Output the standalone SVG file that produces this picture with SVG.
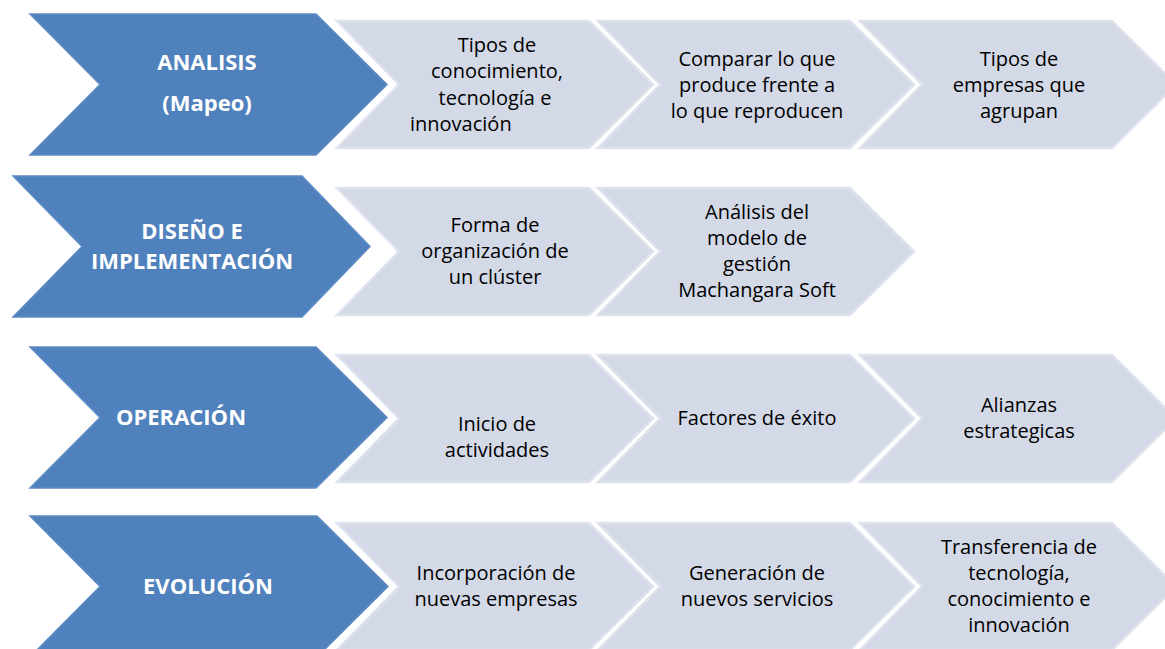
<svg xmlns="http://www.w3.org/2000/svg" width="1165" height="649" viewBox="0 0 1165 649">
<style>
.bl{fill:#4F81BD;stroke:#5F8CC3;stroke-width:1.5}
.lg{fill:#D3D9E6;stroke:#DEE2EC;stroke-width:2.5}
.bt{font-family:"Open Sans","Liberation Sans",sans-serif;font-weight:bold;font-size:22px;fill:#FFFFFF;text-anchor:middle}
.lt{font-family:"Open Sans","Liberation Sans",sans-serif;font-size:20px;fill:#000000;text-anchor:middle}
</style>
<rect width="1165" height="649" fill="#FFFFFF"/>
<g id="connectors"></g>

<g id="analisis">
<polygon class="bl" points="30,14 316,14 387,84.5 316,155 30,155 100,84.5"/>
<text class="bt" x="207" y="70">ANALISIS</text>
<text class="bt" x="207" y="111">(Mapeo)</text>
</g>
<g id="a1">
<polygon class="lg" points="337,21 589,21 653,84.5 589,148 337,148 399,84.5"/>
<text class="lt" x="497" y="52">Tipos de</text>
<text class="lt" x="497" y="78">conocimiento,</text>
<text class="lt" x="495" y="105">tecnología e</text>
<text class="lt" x="410" y="131" style="text-anchor:start">innovación</text>
</g>
<g id="a2">
<polygon class="lg" points="598,21 850,21 914,84.5 850,148 598,148 660,84.5"/>
<text class="lt" x="757" y="66">Comparar lo que</text>
<text class="lt" x="757" y="92">produce frente a</text>
<text class="lt" x="757" y="118">lo que reproducen</text>
</g>
<g id="a3">
<polygon class="lg" points="860,21 1112,21 1176,84.5 1112,148 860,148 922,84.5"/>
<text class="lt" x="1019" y="66">Tipos de</text>
<text class="lt" x="1019" y="92">empresas que</text>
<text class="lt" x="1019" y="118">agrupan</text>
</g>

<g id="diseno">
<polygon class="bl" points="13,176 302,176 370,246.5 302,317 13,317 82,246.5"/>
<text class="bt" x="192" y="239">DISEÑO E</text>
<text class="bt" x="192" y="269">IMPLEMENTACIÓN</text>
</g>
<g id="d1">
<polygon class="lg" points="337,188 589,188 653,251.5 589,315 337,315 399,251.5"/>
<text class="lt" x="495" y="232">Forma de</text>
<text class="lt" x="495" y="258">organización de</text>
<text class="lt" x="495" y="284">un clúster</text>
</g>
<g id="d2">
<polygon class="lg" points="598,188 850,188 914,251.5 850,315 598,315 660,251.5"/>
<text class="lt" x="757" y="219">Análisis del</text>
<text class="lt" x="757" y="245">modelo de</text>
<text class="lt" x="757" y="271">gestión</text>
<text class="lt" x="757" y="297">Machangara Soft</text>
</g>

<g id="operacion">
<polygon class="bl" points="30,347 316,347 387,417.5 316,488 30,488 100,417.5"/>
<text class="bt" x="181" y="425">OPERACIÓN</text>
</g>
<g id="o1">
<polygon class="lg" points="337,355 589,355 653,418.5 589,482 337,482 399,418.5"/>
<text class="lt" x="497" y="431">Inicio de</text>
<text class="lt" x="497" y="457">actividades</text>
</g>
<g id="o2">
<polygon class="lg" points="598,355 850,355 914,418.5 850,482 598,482 660,418.5"/>
<text class="lt" x="757" y="425">Factores de éxito</text>
</g>
<g id="o3">
<polygon class="lg" points="860,355 1112,355 1176,418.5 1112,482 860,482 922,418.5"/>
<text class="lt" x="1019" y="412">Alianzas</text>
<text class="lt" x="1019" y="438">estrategicas</text>
</g>

<g id="evolucion">
<polygon class="bl" points="30,516 317,516 388,586.5 317,657 30,657 100,586.5"/>
<text class="bt" x="208" y="594">EVOLUCIÓN</text>
</g>
<g id="e1">
<polygon class="lg" points="337,523 589,523 653,586.5 589,650 337,650 399,586.5"/>
<text class="lt" x="496" y="580">Incorporación de</text>
<text class="lt" x="496" y="606">nuevas empresas</text>
</g>
<g id="e2">
<polygon class="lg" points="598,523 850,523 914,586.5 850,650 598,650 660,586.5"/>
<text class="lt" x="757" y="580">Generación de</text>
<text class="lt" x="757" y="606">nuevos servicios</text>
</g>
<g id="e3">
<polygon class="lg" points="860,523 1112,523 1176,586.5 1112,650 860,650 922,586.5"/>
<text class="lt" x="1019" y="554">Transferencia de</text>
<text class="lt" x="1019" y="580">tecnología,</text>
<text class="lt" x="1019" y="606">conocimiento e</text>
<text class="lt" x="1019" y="632">innovación</text>
</g>
</svg>
